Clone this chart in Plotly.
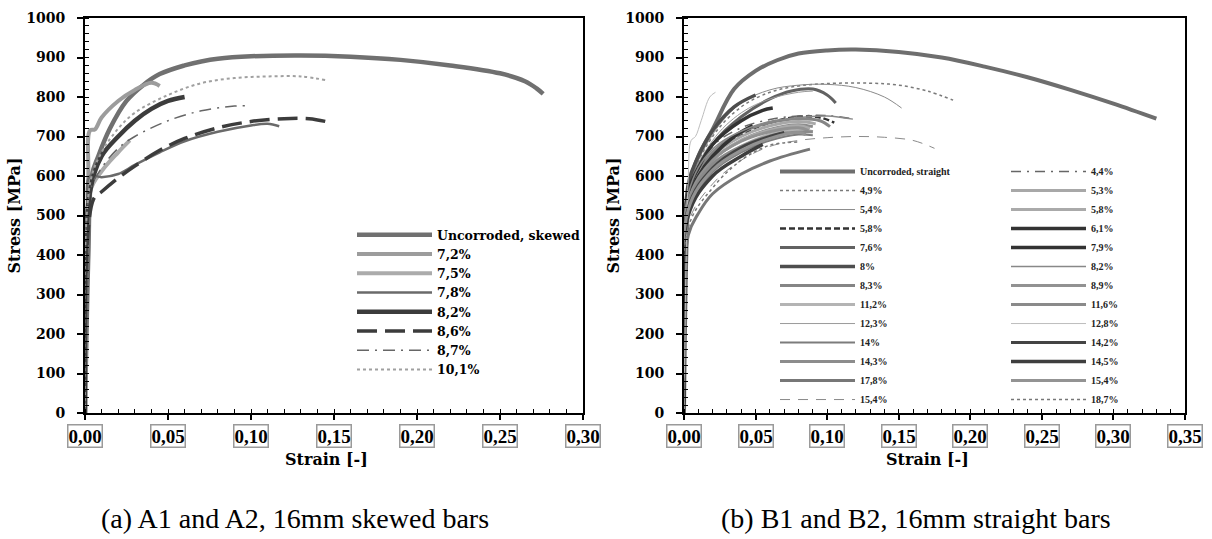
import plotly.graph_objects as go

# ---------------- data: (a) skewed bars ----------------
A_NAMES = ["Uncorroded, skewed", "7,2%", "7,5%", "7,8%", "8,2%", "8,6%", "8,7%", "10,1%"]
A_UNC_STRAIN = [0, 0.002, 0.004, 0.008, 0.015, 0.025, 0.035, 0.045, 0.06, 0.07, 0.08, 0.10, 0.13, 0.16, 0.19, 0.22, 0.25, 0.265, 0.272, 0.276]
A_UNC_STRESS = [0, 400, 600, 650, 720, 790, 830, 858, 880, 890, 897, 903, 905, 902, 894, 880, 860, 840, 822, 808]
A_72_STRAIN = [0, 0.002, 0.003, 0.006, 0.01, 0.02, 0.03, 0.04, 0.045]
A_72_STRESS = [0, 600, 715, 718, 748, 790, 818, 836, 828]
A_75_STRAIN = [0, 0.003, 0.01, 0.02, 0.027]
A_75_STRESS = [0, 560, 612, 660, 690]
A_78_STRAIN = [0, 0.002, 0.003, 0.01, 0.02, 0.03, 0.045, 0.06, 0.08, 0.10, 0.11, 0.117]
A_78_STRESS = [0, 450, 600, 597, 605, 628, 660, 688, 712, 728, 732, 726]
A_82_STRAIN = [0, 0.003, 0.01, 0.02, 0.03, 0.04, 0.05, 0.06]
A_82_STRESS = [0, 560, 650, 700, 740, 770, 790, 800]
A_86_STRAIN = [0, 0.005, 0.01, 0.02, 0.03, 0.045, 0.06, 0.08, 0.10, 0.12, 0.135, 0.145]
A_86_STRESS = [0, 540, 560, 595, 625, 665, 695, 722, 738, 745, 745, 738]
A_87_STRAIN = [0, 0.003, 0.01, 0.02, 0.03, 0.05, 0.07, 0.09, 0.097]
A_87_STRESS = [0, 560, 620, 670, 700, 740, 765, 777, 778]
A_101_STRAIN = [0, 0.003, 0.01, 0.02, 0.03, 0.05, 0.07, 0.09, 0.11, 0.13, 0.146]
A_101_STRESS = [0, 580, 660, 720, 760, 805, 835, 848, 852, 852, 842]

# ---------------- data: (b) straight bars ----------------
B_NAMES_COL1 = ["Uncorroded, straight", "4,9%", "5,4%", "5,8%", "7,6%", "8%", "8,3%",
                "11,2%", "12,3%", "14%", "14,3%", "17,8%", "15,4%"]
B_NAMES_COL2 = ["4,4%", "5,3%", "5,8%", "6,1%", "7,9%", "8,2%", "8,9%",
                "11,6%", "12,8%", "14,2%", "14,5%", "15,4%", "18,7%"]

B_UNC_STRAIN = [0, 0.002, 0.004, 0.01, 0.02, 0.035, 0.05, 0.065, 0.08, 0.10, 0.12, 0.15, 0.18, 0.21, 0.24, 0.27, 0.30, 0.33]
B_UNC_STRESS = [0, 450, 580, 650, 718, 820, 866, 893, 910, 918, 920, 914, 900, 877, 850, 818, 783, 745]
B_49_STRAIN = [0, 0.003, 0.02, 0.04, 0.06, 0.08, 0.10, 0.13, 0.15, 0.17, 0.188]
B_49_STRESS = [0, 560, 700, 775, 812, 828, 834, 835, 830, 815, 792]
B_54_STRAIN = [0, 0.003, 0.02, 0.04, 0.06, 0.08, 0.10, 0.12, 0.14, 0.152]
B_54_STRESS = [0, 560, 705, 785, 818, 830, 832, 824, 800, 772]
B_58A_STRAIN = [0, 0.003, 0.02, 0.04, 0.06, 0.08, 0.095, 0.105]
B_58A_STRESS = [0, 550, 655, 705, 735, 750, 748, 735]
B_76_STRAIN = [0, 0.003, 0.02, 0.04, 0.06, 0.075, 0.09, 0.10, 0.106]
B_76_STRESS = [0, 560, 680, 750, 795, 815, 820, 805, 785]
B_8_STRAIN = [0, 0.003, 0.01, 0.02, 0.035, 0.05]
B_8_STRESS = [0, 580, 650, 715, 775, 805]
B_83_STRAIN = [0, 0.003, 0.02, 0.04, 0.06, 0.08, 0.095, 0.102]
B_83_STRESS = [0, 550, 660, 710, 735, 745, 740, 725]
B_112_STRAIN = [0, 0.003, 0.02, 0.04, 0.06, 0.08, 0.09]
B_112_STRESS = [0, 520, 625, 675, 705, 718, 712]
B_123_STRAIN = [0, 0.003, 0.02, 0.04, 0.06, 0.08, 0.09]
B_123_STRESS = [0, 560, 690, 760, 795, 812, 815]
B_14_STRAIN = [0, 0.003, 0.02, 0.04, 0.06, 0.08, 0.09]
B_14_STRESS = [0, 500, 610, 660, 690, 705, 703]
B_143_STRAIN = [0, 0.003, 0.02, 0.04, 0.06, 0.08, 0.09]
B_143_STRESS = [0, 530, 640, 690, 718, 730, 725]
B_178_STRAIN = [0, 0.003, 0.01, 0.02, 0.04, 0.06, 0.088]
B_178_STRESS = [0, 450, 505, 555, 605, 638, 668]
B_154A_STRAIN = [0, 0.003, 0.02, 0.04, 0.06, 0.08, 0.10, 0.12, 0.14, 0.16, 0.175]
B_154A_STRESS = [0, 480, 580, 640, 675, 690, 697, 700, 698, 690, 670]
B_44_STRAIN = [0, 0.003, 0.02, 0.04, 0.06, 0.08, 0.10, 0.117]
B_44_STRESS = [0, 560, 675, 722, 743, 752, 753, 745]
B_53_STRAIN = [0, 0.003, 0.02, 0.04, 0.06, 0.08, 0.092]
B_53_STRESS = [0, 545, 650, 700, 727, 738, 732]
B_58B_STRAIN = [0, 0.003, 0.02, 0.04, 0.06, 0.08, 0.088]
B_58B_STRESS = [0, 540, 640, 690, 716, 727, 720]
B_61_STRAIN = [0, 0.003, 0.01, 0.02, 0.04, 0.055, 0.062]
B_61_STRESS = [0, 560, 620, 680, 740, 766, 772]
B_79_STRAIN = [0, 0.003, 0.01, 0.02, 0.035, 0.048]
B_79_STRESS = [0, 540, 600, 650, 700, 728]
B_82_STRAIN = [0, 0.003, 0.02, 0.05, 0.08, 0.10, 0.118]
B_82_STRESS = [0, 555, 668, 728, 748, 752, 744]
B_89_STRAIN = [0, 0.003, 0.02, 0.04, 0.06, 0.08, 0.087]
B_89_STRESS = [0, 535, 640, 688, 712, 722, 715]
B_116_STRAIN = [0, 0.003, 0.02, 0.05, 0.07, 0.09]
B_116_STRESS = [0, 525, 630, 690, 708, 712]
B_128_STRAIN = [0, 0.003, 0.005, 0.008, 0.012, 0.018, 0.022]
B_128_STRESS = [0, 600, 690, 700, 740, 800, 812]
B_142_STRAIN = [0, 0.003, 0.02, 0.04, 0.06, 0.07]
B_142_STRESS = [0, 520, 620, 672, 700, 710]
B_145_STRAIN = [0, 0.003, 0.02, 0.04, 0.055]
B_145_STRESS = [0, 500, 600, 650, 680]
B_154B_STRAIN = [0, 0.003, 0.02, 0.04, 0.06, 0.08, 0.085]
B_154B_STRESS = [0, 515, 615, 665, 695, 710, 705]
B_187_STRAIN = [0, 0.003, 0.02, 0.04, 0.06, 0.08]
B_187_STRESS = [0, 470, 570, 640, 678, 686]

# ---------------- axes ticks ----------------
Y_TICKS = [0, 100, 200, 300, 400, 500, 600, 700, 800, 900, 1000]
XA_TICKS = [0.0, 0.05, 0.10, 0.15, 0.20, 0.25, 0.30]
XA_LABELS = ["0,00", "0,05", "0,10", "0,15", "0,20", "0,25", "0,30"]
XB_TICKS = [0.0, 0.05, 0.10, 0.15, 0.20, 0.25, 0.30, 0.35]
XB_LABELS = ["0,00", "0,05", "0,10", "0,15", "0,20", "0,25", "0,30", "0,35"]

X_TITLE = "Strain [-]"
Y_TITLE = "Stress [MPa]"
CAPTION_A = "(a) A1 and A2, 16mm skewed bars"
CAPTION_B = "(b) B1 and B2, 16mm straight bars"

# ---------------- styles ----------------
A_DATA = [(A_UNC_STRAIN, A_UNC_STRESS), (A_72_STRAIN, A_72_STRESS), (A_75_STRAIN, A_75_STRESS),
          (A_78_STRAIN, A_78_STRESS), (A_82_STRAIN, A_82_STRESS), (A_86_STRAIN, A_86_STRESS),
          (A_87_STRAIN, A_87_STRESS), (A_101_STRAIN, A_101_STRESS)]
A_STYLE = [("#707070", 4.5, "solid"), ("#9c9c9c", 4, "solid"), ("#ababab", 4, "solid"),
           ("#6a6a6a", 2.5, "solid"), ("#3c3c3c", 4.5, "solid"), ("#3c3c3c", 3.5, "20px,8px"),
           ("#666666", 1.5, "12px,6px,2px,6px"), ("#a0a0a0", 2, "dot")]

B1_DATA = [(B_UNC_STRAIN, B_UNC_STRESS), (B_49_STRAIN, B_49_STRESS), (B_54_STRAIN, B_54_STRESS),
           (B_58A_STRAIN, B_58A_STRESS), (B_76_STRAIN, B_76_STRESS), (B_8_STRAIN, B_8_STRESS),
           (B_83_STRAIN, B_83_STRESS), (B_112_STRAIN, B_112_STRESS), (B_123_STRAIN, B_123_STRESS),
           (B_14_STRAIN, B_14_STRESS), (B_143_STRAIN, B_143_STRESS), (B_178_STRAIN, B_178_STRESS),
           (B_154A_STRAIN, B_154A_STRESS)]
B1_STYLE = [("#6e6e6e", 4, "solid"), ("#7a7a7a", 1.5, "dot"), ("#8a8a8a", 1, "solid"),
            ("#333333", 2.5, "6px,3px"), ("#626262", 3, "solid"), ("#4e4e4e", 3.5, "solid"),
            ("#858585", 3, "solid"), ("#b4b4b4", 3, "solid"), ("#9a9a9a", 1, "solid"),
            ("#7c7c7c", 2, "solid"), ("#8c8c8c", 3, "solid"), ("#777777", 3, "solid"),
            ("#8a8a8a", 1, "10px,8px")]
B2_DATA = [(B_44_STRAIN, B_44_STRESS), (B_53_STRAIN, B_53_STRESS), (B_58B_STRAIN, B_58B_STRESS),
           (B_61_STRAIN, B_61_STRESS), (B_79_STRAIN, B_79_STRESS), (B_82_STRAIN, B_82_STRESS),
           (B_89_STRAIN, B_89_STRESS), (B_116_STRAIN, B_116_STRESS), (B_128_STRAIN, B_128_STRESS),
           (B_142_STRAIN, B_142_STRESS), (B_145_STRAIN, B_145_STRESS), (B_154B_STRAIN, B_154B_STRESS),
           (B_187_STRAIN, B_187_STRESS)]
B2_STYLE = [("#666666", 1.5, "10px,6px,2px,6px"), ("#a8a8a8", 3, "solid"), ("#aaaaaa", 3, "solid"),
            ("#333333", 3.5, "solid"), ("#333333", 3.5, "solid"), ("#888888", 1.5, "solid"),
            ("#929292", 3, "solid"), ("#8a8a8a", 3, "solid"), ("#bdbdbd", 1, "solid"),
            ("#444444", 3, "solid"), ("#3e3e3e", 3.5, "solid"), ("#939393", 3, "solid"),
            ("#777777", 1.5, "dot")]

SERIF = "Liberation Serif"
WIDE = "DejaVu Serif"
fig = go.Figure()

for name, (sx, sy), (c, w, d) in zip(A_NAMES, A_DATA, A_STYLE):
    fig.add_trace(go.Scatter(x=sx, y=sy, name=name, mode="lines", line_shape="spline",
                             line=dict(color=c, width=w, dash=d), xaxis="x", yaxis="y",
                             legend="legend"))
for name, (sx, sy), (c, w, d) in zip(B_NAMES_COL1, B1_DATA, B1_STYLE):
    fig.add_trace(go.Scatter(x=sx, y=sy, name=name, mode="lines", line_shape="spline",
                             line=dict(color=c, width=w, dash=d), xaxis="x2", yaxis="y2",
                             legend="legend2"))
for name, (sx, sy), (c, w, d) in zip(B_NAMES_COL2, B2_DATA, B2_STYLE):
    fig.add_trace(go.Scatter(x=sx, y=sy, name=name, mode="lines", line_shape="spline",
                             line=dict(color=c, width=w, dash=d), xaxis="x2", yaxis="y2",
                             legend="legend3"))

ytickfont = dict(family=WIDE, size=14, color="black", weight="bold")
xtickfont = dict(family=SERIF, size=19, color="black", weight="bold")
titlefont = dict(family=WIDE, size=16, color="black", weight="bold")

def yax(anchor):
    return dict(range=[0, 1000], tickvals=Y_TICKS, ticks="outside", ticklen=6, tickwidth=1.5,
                tickcolor="black", showline=True, linecolor="black", linewidth=2, mirror=True,
                showgrid=False, zeroline=False, anchor=anchor, tickfont=ytickfont,
                ticklabelstandoff=9, automargin=False,
                minor=dict(dtick=20, ticks="inside", ticklen=4, tickwidth=1.2, tickcolor="black", showgrid=False),
                title=dict(text=Y_TITLE, font=titlefont, standoff=2))

def yax_cross(over, anchor):
    # inner half of the major ticks (they cross the axis line in the reference)
    return dict(range=[0, 1000], tickvals=Y_TICKS, ticks="inside", ticklen=5, tickwidth=1.5,
                tickcolor="black", showline=False, showgrid=False, zeroline=False,
                showticklabels=False, overlaying=over, anchor=anchor, automargin=False)

def xax(rng, domain, anchor):
    return dict(range=rng, domain=domain, dtick=0.05, ticks="outside", ticklen=5, tickwidth=1.5,
                tickcolor="black", showline=True, linecolor="black", linewidth=2, mirror=True,
                showgrid=False, zeroline=False, anchor=anchor, showticklabels=False,
                automargin=False,
                minor=dict(dtick=0.01, ticks="inside", ticklen=4, tickwidth=1.2, tickcolor="black", showgrid=False))

def xax_cross(rng, over, anchor):
    return dict(range=rng, dtick=0.05, ticks="inside", ticklen=6, tickwidth=1.5,
                tickcolor="black", showline=False, showgrid=False, zeroline=False,
                showticklabels=False, overlaying=over, anchor=anchor, automargin=False)

legfont = dict(family=WIDE, size=12.5, color="black", weight="bold")
smallfont = dict(family=SERIF, size=10, color="#222222", weight="bold")

fig.update_layout(
    template="none",
    width=1212, height=539,
    margin=dict(l=0, r=0, t=18, b=126),
    paper_bgcolor="white", plot_bgcolor="white",
    xaxis=xax([0, 0.30], [85 / 1212, 583 / 1212], "y"),
    yaxis=yax("x"),
    xaxis2=xax([0, 0.35], [684 / 1212, 1185 / 1212], "y2"),
    yaxis2=yax("x2"),
    xaxis3=xax_cross([0, 0.30], "x", "y"),
    yaxis3=yax_cross("y", "x"),
    xaxis4=xax_cross([0, 0.35], "x2", "y2"),
    yaxis4=yax_cross("y2", "x2"),
    legend=dict(x=352 / 1212, y=(413 - 220) / 395, xanchor="left", yanchor="top", font=legfont,
                bgcolor="rgba(0,0,0,0)", tracegroupgap=0, itemwidth=75, borderwidth=0),
    legend2=dict(x=775 / 1212, y=0.648, xanchor="left", yanchor="top", font=smallfont,
                 bgcolor="rgba(0,0,0,0)", itemwidth=75, borderwidth=0),
    legend3=dict(x=1006 / 1212, y=0.648, xanchor="left", yanchor="top", font=smallfont,
                 bgcolor="rgba(0,0,0,0)", itemwidth=75, borderwidth=0),
    showlegend=True,
)

annotations = []
for v, lab in zip(XA_TICKS, XA_LABELS):
    annotations.append(dict(x=v, xref="x", y=0, yref="paper", yanchor="top", yshift=-11,
                            text=lab, showarrow=False, font=xtickfont,
                            bordercolor="#9a9a9a", borderwidth=1.5, borderpad=0))
for v, lab in zip(XB_TICKS, XB_LABELS):
    annotations.append(dict(x=v, xref="x2", y=0, yref="paper", yanchor="top", yshift=-11,
                            text=lab, showarrow=False, font=xtickfont,
                            bordercolor="#9a9a9a", borderwidth=1.5, borderpad=0))
annotations.append(dict(x=326 / 1212, xref="paper", y=(413 - 459) / 395, yref="paper",
                        xanchor="center", yanchor="middle",
                        text=X_TITLE, showarrow=False, font=titlefont))
annotations.append(dict(x=927 / 1212, xref="paper", y=(413 - 459) / 395, yref="paper",
                        xanchor="center", yanchor="middle",
                        text=X_TITLE, showarrow=False, font=titlefont))
annotations.append(dict(x=295 / 1212, xref="paper", y=(413 - 518) / 395, yref="paper",
                        text=CAPTION_A, showarrow=False, xanchor="center", yanchor="middle",
                        font=dict(family=SERIF, size=28, color="black")))
annotations.append(dict(x=916 / 1212, xref="paper", y=(413 - 518) / 395, yref="paper",
                        text=CAPTION_B, showarrow=False, xanchor="center", yanchor="middle",
                        font=dict(family=SERIF, size=28, color="black")))
fig.update_layout(annotations=annotations)

fig.write_html("out.html")
